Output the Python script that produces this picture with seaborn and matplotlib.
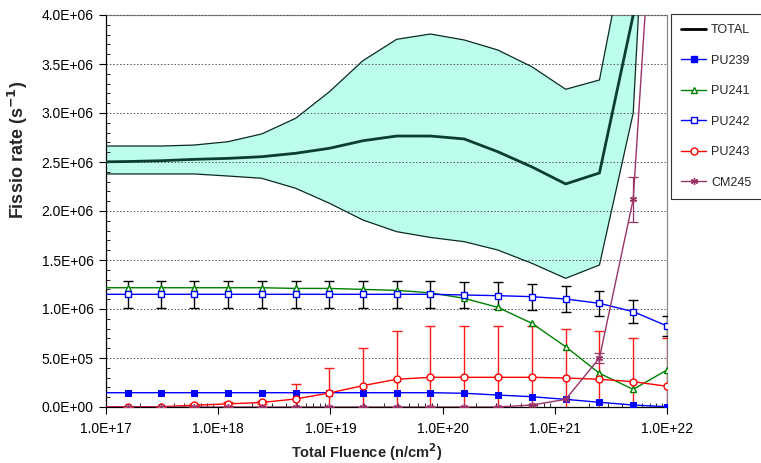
import matplotlib
matplotlib.use("Agg")
import matplotlib.pyplot as plt
import seaborn as sns
from matplotlib.lines import Line2D
from matplotlib.ticker import FuncFormatter, LogLocator, MultipleLocator

# fluence points (n/cm2), one every factor 2
fluence = [7.8e16, 1.56e17, 3.1e17, 6.1e17, 1.22e18, 2.44e18, 4.9e18, 9.8e18, 1.95e19,
           3.9e19, 7.8e19, 1.56e20, 3.1e20, 6.25e20, 1.25e21, 2.5e21, 5.0e21, 1.0e22]

# fission rates, in 1e6 s-1
total = [2.50, 2.505, 2.513, 2.527, 2.537, 2.554, 2.589, 2.640, 2.717,
         2.765, 2.765, 2.735, 2.605, 2.450, 2.276, 2.388, 4.00, 12.0]
total_up = [2.663, 2.663, 2.663, 2.673, 2.707, 2.786, 2.946, 3.217, 3.534,
            3.752, 3.806, 3.745, 3.643, 3.472, 3.242, 3.337, 5.10, 15.0]
total_low = [2.378, 2.378, 2.378, 2.378, 2.357, 2.334, 2.232, 2.079, 1.908,
             1.789, 1.730, 1.687, 1.602, 1.466, 1.313, 1.449, 3.00, 9.50]

pu239 = [0.146, 0.146, 0.146, 0.146, 0.146, 0.146, 0.146, 0.146, 0.146,
         0.146, 0.146, 0.140, 0.122, 0.105, 0.078, 0.048, 0.020, 0.003]
pu241 = [1.217, 1.217, 1.217, 1.217, 1.217, 1.217, 1.210, 1.210, 1.200,
         1.190, 1.165, 1.109, 1.017, 0.854, 0.615, 0.344, 0.180, 0.378]
pu242 = [1.150, 1.150, 1.150, 1.150, 1.150, 1.150, 1.150, 1.150, 1.150,
         1.150, 1.150, 1.143, 1.136, 1.126, 1.102, 1.058, 0.973, 0.827]
pu242_err = [0.137, 0.137, 0.137, 0.137, 0.137, 0.137, 0.137, 0.137, 0.137,
             0.137, 0.137, 0.137, 0.135, 0.133, 0.130, 0.125, 0.115, 0.105]
pu243 = [0.003, 0.003, 0.003, 0.018, 0.032, 0.046, 0.082, 0.143, 0.218,
         0.283, 0.303, 0.303, 0.303, 0.303, 0.296, 0.283, 0.258, 0.212]
pu243_err = [0.0, 0.0, 0.0, 0.01, 0.024, 0.015, 0.15, 0.26, 0.38,
             0.49, 0.52, 0.52, 0.52, 0.52, 0.50, 0.49, 0.45, 0.49]
cm245 = [0.0, 0.0, 0.0, 0.0, 0.0, 0.0, 0.0, 0.0, 0.0,
         0.0, 0.0, 0.0, 0.0, 0.020, 0.078, 0.50, 2.12, 7.5]
cm245_err = [0.0, 0.0, 0.0, 0.0, 0.0, 0.0, 0.0, 0.0, 0.0,
             0.0, 0.0, 0.0, 0.0, 0.0, 0.0, 0.05, 0.23, 0.0]

scale = 1e6
sc = lambda v: [x * scale for x in v]

sns.set_style("white")
plt.rcParams['font.family'] = ['Liberation Sans', 'DejaVu Sans']

fig = plt.figure(figsize=(7.61, 4.63), dpi=100)
ax = fig.add_axes([106 / 761, 1 - 407 / 463, 561 / 761, 392 / 463])
ax.set_xscale('log')

# uncertainty band of the total
ax.fill_between(fluence, sc(total_low), sc(total_up), color='#bdfdec', lw=0, zorder=1)
sns.lineplot(x=fluence, y=sc(total_up), ax=ax, color='#0b2a24', lw=0.9, zorder=3)
sns.lineplot(x=fluence, y=sc(total_low), ax=ax, color='#0b2a24', lw=0.9, zorder=3)
sns.lineplot(x=fluence, y=sc(total), ax=ax, color='#0b3d33', lw=2.0, zorder=4)

# error bars
ax.errorbar(fluence, sc(pu242), yerr=sc(pu242_err), fmt='none', ecolor='black',
            elinewidth=1.0, capsize=3.5, capthick=1.0, zorder=5)
ax.errorbar(fluence, sc(pu243), yerr=sc(pu243_err), fmt='none', ecolor='#ff1a1a',
            elinewidth=1.0, capsize=3.5, capthick=1.0, zorder=5)
ax.errorbar(fluence, sc(cm245), yerr=sc(cm245_err), fmt='none', ecolor='#993366',
            elinewidth=0.9, capsize=3.5, capthick=0.9, zorder=5)

ms = 5
sns.lineplot(x=fluence, y=sc(pu239), ax=ax, color='#0000ff', lw=1.0, marker='s',
             markersize=ms, markerfacecolor='#0000ff', markeredgecolor='#0000ff', zorder=6)
sns.lineplot(x=fluence, y=sc(pu241), ax=ax, color='#008000', lw=1.0, marker='^',
             markersize=ms, markerfacecolor='white', markeredgecolor='#008000',
             markeredgewidth=1.0, zorder=6)
sns.lineplot(x=fluence, y=sc(pu242), ax=ax, color='#0000ff', lw=1.0, marker='s',
             markersize=ms, markerfacecolor='white', markeredgecolor='#0000ff',
             markeredgewidth=1.0, zorder=7)
sns.lineplot(x=fluence, y=sc(pu243), ax=ax, color='#ff0000', lw=1.0, marker='o',
             markersize=ms, markerfacecolor='white', markeredgecolor='#ff0000',
             markeredgewidth=1.0, zorder=6)
sns.lineplot(x=fluence, y=sc(cm245), ax=ax, color='#993366', lw=1.0, marker=(6, 2, 0),
             markersize=ms, markeredgecolor='#993366', markeredgewidth=1.0, zorder=7)

ax.set_xlim(1e17, 1e22)
ax.set_ylim(0, 4e6)

ax.xaxis.set_major_locator(LogLocator(base=10))
ax.xaxis.set_minor_locator(LogLocator(base=10, subs=range(2, 10)))
ax.xaxis.set_major_formatter(FuncFormatter(lambda v, p: f"{v:.1E}"))
ax.xaxis.set_minor_formatter(FuncFormatter(lambda v, p: ""))
ax.yaxis.set_major_locator(MultipleLocator(5e5))
ax.yaxis.set_minor_locator(MultipleLocator(1e5))
ax.yaxis.set_major_formatter(FuncFormatter(lambda v, p: f"{v:.1E}"))

ax.tick_params(which='major', direction='out', length=5, width=0.8, labelsize=10,
               colors='black', left=True, bottom=True)
ax.tick_params(which='minor', direction='in', length=3, width=0.7, left=True, bottom=True)
ax.tick_params(axis='x', which='major', pad=6)
ax.tick_params(axis='y', which='major', pad=4)

ax.grid(axis='y', which='major', color='#555555', linestyle=(0, (1.5, 2)), lw=0.7)
ax.grid(axis='x', visible=False)
ax.set_axisbelow(False)

for s in ['left', 'bottom']:
    ax.spines[s].set_color('black')
    ax.spines[s].set_linewidth(0.9)
for s in ['top', 'right']:
    ax.spines[s].set_color('#888888')
    ax.spines[s].set_linewidth(0.9)

ax.set_xlabel('Total Fluence (n/cm$^{\\mathbf{2}}$)', fontsize=10.5, fontweight='bold')
ax.set_ylabel('Fissio rate (s$^{\\mathbf{-1}}$)', fontsize=13, fontweight='bold')
ax.xaxis.set_label_coords(0.465, -0.088)
ax.yaxis.set_label_coords(-0.135, 0.656)

handles = [
    Line2D([], [], color='black', lw=2.0),
    Line2D([], [], color='#0000ff', lw=1.0, marker='s', markersize=ms,
           markerfacecolor='#0000ff', markeredgecolor='#0000ff'),
    Line2D([], [], color='#008000', lw=1.0, marker='^', markersize=ms,
           markerfacecolor='white', markeredgecolor='#008000'),
    Line2D([], [], color='#0000ff', lw=1.0, marker='s', markersize=ms,
           markerfacecolor='white', markeredgecolor='#0000ff'),
    Line2D([], [], color='#ff0000', lw=1.0, marker='o', markersize=ms,
           markerfacecolor='white', markeredgecolor='#ff0000'),
    Line2D([], [], color='#993366', lw=1.0, marker=(6, 2, 0), markersize=ms,
           markeredgecolor='#993366'),
]
labels = ['TOTAL', 'PU239', 'PU241', 'PU242', 'PU243', 'CM245']
leg = fig.legend(handles, labels, loc='upper left', mode='expand',
                 bbox_to_anchor=(671 / 761, 1 - 198 / 463, 0.2, 184 / 463),
                 fontsize=9, frameon=True, fancybox=False, framealpha=1,
                 edgecolor='#333333', handlelength=2.0, handletextpad=0.4,
                 labelspacing=1.48, borderpad=0.8, borderaxespad=0)
leg.get_frame().set_linewidth(0.8)

fig.savefig('out.png', dpi=100)
